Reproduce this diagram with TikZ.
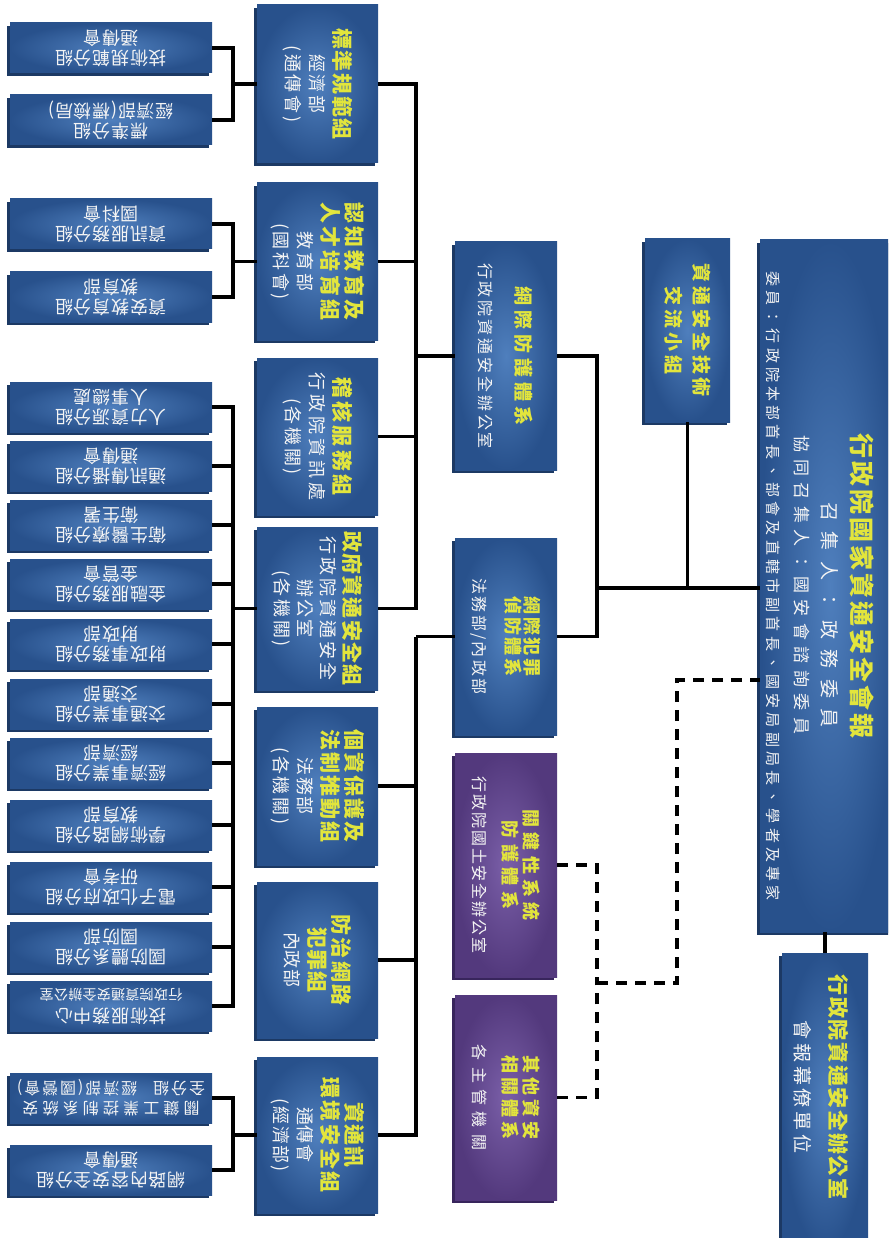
\documentclass[tikz,border=0pt]{standalone}
\usepackage{fontspec}
\setmainfont{Noto Sans CJK TC}
\usetikzlibrary{shadows}
\definecolor{bin}{HTML}{4F7FBD}
\definecolor{bout}{HTML}{28518C}
\definecolor{bsh}{HTML}{1C3964}
\definecolor{pin}{HTML}{7A5FA8}
\definecolor{pout}{HTML}{53397D}
\definecolor{psh}{HTML}{38255C}
\definecolor{ty}{HTML}{E2E53C}
\definecolor{tw}{HTML}{F4F4F4}
\newcommand\Yl[3]{{\fontsize{#1}{#1}\selectfont\bfseries\addfontfeature{LetterSpace=#2}\color{ty}#3}}
\newcommand\Wl[3]{{\fontsize{#1}{#1}\selectfont\addfontfeature{LetterSpace=#2}\color{tw}#3}}
\newcommand\SB[4]{\node[smallbox] (#1) at (111,#2) {};
  \node[stext] (#1t) at (#1.center) {#3\\#4};}
\tikzset{
  box/.style={rectangle, inner sep=0pt, draw=none},
  bluebox/.style={box, inner color=bin, outer color=bout,
    drop shadow={shadow xshift=-3pt, shadow yshift=-3pt, fill=bsh, opacity=1}},
  purplebox/.style={box, inner color=pin, outer color=pout,
    drop shadow={shadow xshift=-3pt, shadow yshift=-3pt, fill=psh, opacity=1}},
  smallbox/.style={bluebox, minimum width=202pt, minimum height=50pt},
  midbox/.style={bluebox, minimum width=121pt, minimum height=#1},
  thirdbox/.style={bluebox, minimum width=102pt, minimum height=#1},
  thirdpbox/.style={purplebox, minimum width=102pt, minimum height=#1},
  vtext/.style={rotate=-90, align=center, inner sep=0pt},
  stext/.style={rotate=180, align=center, inner sep=0pt, text=tw,
    font=\fontsize{18}{20}\selectfont\addfontfeature{LetterSpace=4}},
  conn/.style={line width=3.2pt, draw=black},
  dashline/.style={conn, dash pattern=on 11pt off 8pt},
}
\begin{document}
\begin{tikzpicture}[x=1pt,y=-1pt]
\useasboundingbox (0,0) rectangle (888,1238);
\fill[white] (0,0) rectangle (888,1238);
\clip (0,0) rectangle (888,1238);

% ---- small boxes (left column)
\SB{s1}{48}{技術規範分組}{通傳會}
\SB{s2}{120}{標準分組}{經濟部(標檢局)}
\SB{s3}{224}{資訊服務分組}{國科會}
\SB{s4}{297}{資安教育分組}{教育部}
\SB{s5}{407}{人力資源分組}{人事總處}
\SB{s6}{466}{通訊傳播分組}{通傳會}
\SB{s7}{525}{衛生醫療分組}{衛生署}
\SB{s8}{584}{金融服務分組}{金管會}
\SB{s9}{644}{財政事務分組}{財政部}
\SB{s10}{704}{交通事業分組}{交通部}
\SB{s11}{763}{經濟事業分組}{經濟部}
\SB{s12}{825}{學術網路分組}{教育部}
\SB{s13}{887}{電子化政府分組}{研考會}
\SB{s14}{947}{國防體系分組}{國防部}
\SB{s15}{1006}{技術服務中心}{{\fontsize{14}{14}\selectfont\addfontfeature{LetterSpace=2}行政院資通安全辦公室}}
\SB{s16}{1098}{{\fontsize{16}{16}\selectfont\addfontfeature{LetterSpace=26}關鍵工業控制系統安}}{{\fontsize{16}{16}\selectfont\addfontfeature{LetterSpace=12}全分組\quad 經濟部(國營會)}}
\SB{s17}{1170}{網路內容安全分組}{通傳會}

% ---- middle column
\node[midbox=158pt] (A) at (317.5,84) {};
\node[vtext, font=\fontsize{18}{24}\selectfont] (At) at (A.center)
  {\Yl{21}{8}{標準規範組}\\\Wl{18}{14}{經濟部}\\\Wl{18}{14}{(通傳會)}};
\node[midbox=157pt] (B) at (317.5,261.5) {};
\node[vtext, font=\fontsize{18}{24}\selectfont] (Bt) at (B.center)
  {\Yl{21}{16}{認知教育及}\\\Yl{21}{16}{人才培育組}\\\Wl{18}{14}{教育部}\\\Wl{18}{14}{(國科會)}};
\node[midbox=157pt] (C) at (317.5,436.5) {};
\node[vtext, font=\fontsize{18}{24}\selectfont] (Ct) at (C.center)
  {\Yl{21}{16}{稽核服務組}\\\Wl{18}{22}{行政院資訊處}\\\Wl{18}{14}{(各機關)}};
\node[midbox=163pt] (D) at (317.5,608.5) {};
\node[vtext, font=\fontsize{18}{23}\selectfont] (Dt) at (D.center)
  {\Yl{21}{6}{政府資通安全組}\\\Wl{18}{16}{行政院資通安全}\\\Wl{18}{12}{辦公室}\\\Wl{18}{14}{(各機關)}};
\node[midbox=158pt] (E) at (317.5,786) {};
\node[vtext, font=\fontsize{18}{24}\selectfont] (Et) at (E.center)
  {\Yl{21}{10}{個資保護及}\\\Yl{21}{10}{法制推動組}\\\Wl{18}{6}{法務部}\\\Wl{18}{14}{(各機關)}};
\node[midbox=156pt] (F) at (317.5,960) {};
\node[vtext, font=\fontsize{18}{24}\selectfont] (Ft) at (F.center)
  {\Yl{21}{12}{防治網路}\\\Yl{21}{6}{犯罪組}\\\Wl{18}{4}{內政部}};
\node[midbox=156pt] (G) at (317.5,1135) {};
\node[vtext, font=\fontsize{18}{24}\selectfont] (Gt) at (G.center)
  {\Yl{21}{6}{資通訊}\\\Yl{21}{12}{環境安全組}\\\Wl{18}{4}{通傳會}\\\Wl{18}{10}{(經濟部)}};

% ---- third column
\node[thirdbox=228pt] (H) at (506,356) {};
\node[vtext, font=\fontsize{16}{21}\selectfont] (Ht) at (H.center)
  {\Yl{19}{26}{網際防護體系}\\[16pt]\Wl{16}{18}{行政院資通安全辦公室}};
\node[thirdbox=197pt] (I) at (506,636.5) {};
\node[vtext, font=\fontsize{16}{19}\selectfont] (It) at (I.center)
  {\Yl{18}{14}{網際犯罪}\\\Yl{18}{14}{偵防體系}\\[14pt]\Wl{16}{14}{法務部/內政部}};
\node[thirdpbox=224pt] (J) at (506,865) {};
\node[vtext, font=\fontsize{16}{21}\selectfont] (Jt) at (J.center)
  {\Yl{18}{30}{關鍵性系統}\\\Yl{18}{30}{防護體系}\\[9pt]\Wl{16}{12}{行政院國土安全辦公室}};
\node[thirdpbox=205pt] (K) at (506,1097.5) {};
\node[vtext, font=\fontsize{16}{21}\selectfont] (Kt) at (K.center)
  {\Yl{18}{22}{其他資安}\\\Yl{18}{22}{相關體系}\\[9pt]\Wl{16}{40}{各主管機關}};

% ---- fourth column
\node[bluebox, minimum width=85pt, minimum height=183pt] (L) at (687.5,330.5) {};
\node[vtext, font=\fontsize{19}{28}\selectfont] (Lt) at (L.center)
  {\Yl{19}{20}{資通安全技術}\\\Yl{19}{20}{交流小組}};

% ---- main box
\node[bluebox, minimum width=140pt, minimum height=692pt] (M) at (830,586) {};
\node[vtext] (Mt1) at (862,586) {\Yl{25}{12}{行政院國家資通安全會報}};
\node[vtext] (Mt2) at (830,615) {\Wl{19}{55}{召集人：政務委員}};
\node[vtext] (Mt3) at (802,585) {\Wl{17}{38}{協同召集人：國安會諮詢委員}};
\node[vtext] (Mt4) at (773,586) {\Wl{15}{28}{委員：行政院本部首長、部會及直轄市副首長、國安局副局長、學者及專家}};

% ---- staff office
\node[bluebox, minimum width=86pt, minimum height=297pt] (N) at (825,1101.5) {};
\node[vtext, font=\fontsize{19}{35}\selectfont] (Nt) at (821,1087)
  {\Yl{21}{8}{行政院資通安全辦公室}\\\Wl{19}{20}{會報幕僚單位}};

% ---- connectors: small boxes to middle boxes
\coordinate (bA) at (233,84);
\coordinate (bB) at (233,261.5);
\coordinate (bD) at (233,608.5);
\coordinate (bG) at (233,1135);
\foreach \s in {s1,s2} \draw[conn] (\s.east) -| (bA);
\draw[conn] (bA) -- (A.west);
\foreach \s in {s3,s4} \draw[conn] (\s.east) -| (bB);
\draw[conn] (bB) -- (B.west);
\foreach \s in {s5,s6,s7,s8,s9,s10,s11,s12,s13,s14,s15} \draw[conn] (\s.east) -| (bD);
\draw[conn] (bD) -- (D.west);
\foreach \s in {s16,s17} \draw[conn] (\s.east) -| (bG);
\draw[conn] (bG) -- (G.west);

% ---- middle boxes to third column
\coordinate (tH) at (416,356);
\foreach \s in {A,B,C,D} \draw[conn] (\s.east) -| (tH);
\draw[conn] (tH) -- (H.west);
\coordinate (tI) at (416,636.5);
\foreach \s in {E,F,G} \draw[conn] (\s.east) -| (tI);
\draw[conn] (tI) -- (I.west);

% ---- third column to main box
\coordinate (tM) at (597,588);
\draw[conn] (H.east) -| (tM);
\draw[conn] (I.east) -| (tM);
\draw[conn] (tM) -- (tM -| M.west);
\draw[conn] (L.south) -- (L.south |- tM);
\draw[conn] (N.north) -- (N.north |- M.south);

% ---- dashed links
\coordinate (dJK) at (597,983);
\coordinate (dM) at (760,680);
\draw[dashline] (J.east) -| (dJK);
\draw[dashline] (K.east) -| (dJK);
\draw[dashline] (dJK) -| (677,680) -- (dM);
\end{tikzpicture}
\end{document}
